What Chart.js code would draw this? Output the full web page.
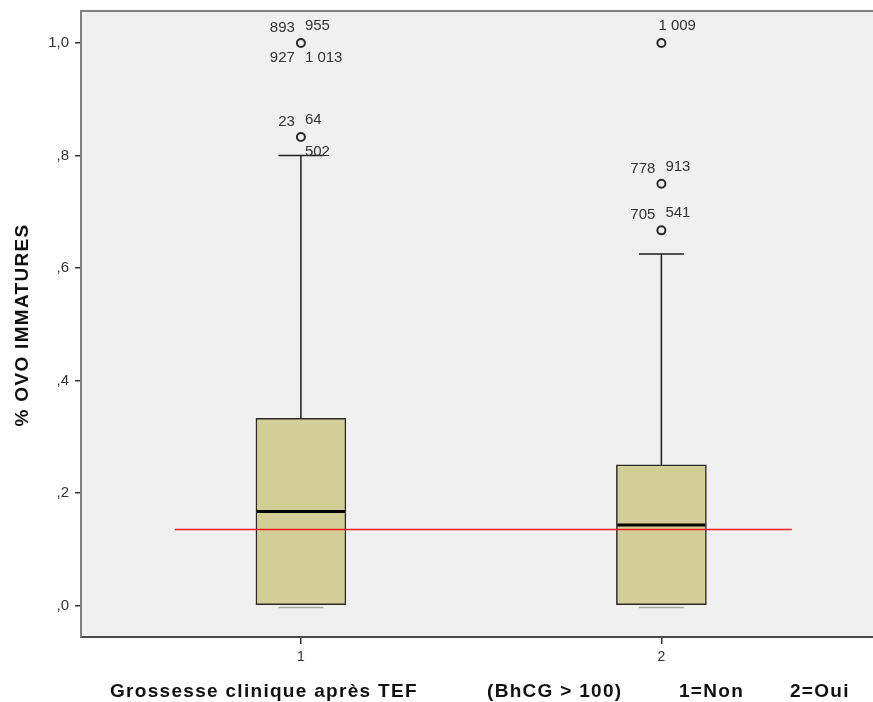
<!DOCTYPE html>
<html><head><meta charset="utf-8">
<script src="https://cdn.jsdelivr.net/npm/chart.js@4/dist/chart.umd.min.js"></script>
<style>html,body{margin:0;padding:0;background:#fff;} canvas{display:block;}</style>
</head><body>
<canvas id="c" width="873" height="702"></canvas>
<script>
// ---- data ----
const categories = [1, 2];
const categoryLabels = ['1', '2'];
const q1 = [0, 0];
const q3 = [0.333, 0.25];
const medians = [0.167, 0.143];
const whiskerLow = [0, 0];
const whiskerHigh = [0.8, 0.625];
const outlierCat = [1, 1, 2, 2, 2];
const outlierVal = [1.0, 0.833, 1.0, 0.75, 0.667];
const outlierLabels = [['893', '955', '927', '1 013'], ['23', '64', '502'], ['1 009'], ['778', '913'], ['705', '541']];
const outlierLabelPos = [['ul', 'ur', 'll', 'lr'], ['ul', 'ur', 'lr'], ['ur'], ['ul', 'ur'], ['ul', 'ur']];
const refLineValue = 0.135;
const refLineFrom = 0.65;
const refLineTo = 2.362;
const yTickValues = [0, 0.2, 0.4, 0.6, 0.8, 1.0];
const yTickLabels = [',0', ',2', ',4', ',6', ',8', '1,0'];
const yTitle = '% OVO IMMATURES';
const xTitleParts = ['Grossesse clinique après TEF', '(BhCG > 100)', '1=Non', '2=Oui'];

// ---- style / layout ----
const FONT = "'Liberation Sans', Arial, sans-serif";
const xTitleX = [110, 487, 679, 790];
const BOX_W = 90, CAP_HALF = 22.5;

const boxPlugin = {
  id: 'boxplot',
  beforeDraw(chart) {
    const a = chart.chartArea, ctx = chart.ctx;
    ctx.save();
    ctx.fillStyle = '#f0f0f0';
    ctx.fillRect(a.left, a.top, a.right - a.left, a.bottom - a.top);
    ctx.restore();
  },
  afterDatasetDraw(chart, args) {
    if (args.index !== 0) return;
    const xs = chart.scales.x, ys = chart.scales.y, ctx = chart.ctx;
    ctx.save();
    categories.forEach((c, i) => {
      const cx = xs.getPixelForValue(c);
      const yq3 = ys.getPixelForValue(q3[i]);
      const yq1 = ys.getPixelForValue(q1[i]);
      const yHi = ys.getPixelForValue(whiskerHigh[i]);
      const yLo = ys.getPixelForValue(whiskerLow[i]);
      const yMed = ys.getPixelForValue(medians[i]);
      ctx.strokeStyle = '#1e1e1e';
      ctx.lineWidth = 1.5;
      ctx.beginPath();
      ctx.moveTo(cx, yq3); ctx.lineTo(cx, yHi);
      ctx.moveTo(cx - CAP_HALF, yHi); ctx.lineTo(cx + CAP_HALF, yHi);
      ctx.moveTo(cx, yq1); ctx.lineTo(cx, yLo);
      ctx.stroke();
      ctx.strokeStyle = '#a8a8a8';
      ctx.beginPath();
      ctx.moveTo(cx - CAP_HALF, yLo + 2); ctx.lineTo(cx + CAP_HALF, yLo + 2);
      ctx.stroke();
      ctx.strokeStyle = '#000';
      ctx.lineWidth = 3;
      ctx.beginPath();
      ctx.moveTo(cx - BOX_W / 2 + 1, yMed); ctx.lineTo(cx + BOX_W / 2 - 1, yMed);
      ctx.stroke();
    });
    ctx.restore();
  },
  afterDraw(chart) {
    const xs = chart.scales.x, ys = chart.scales.y, ctx = chart.ctx, a = chart.chartArea;
    ctx.save();
    // top border
    ctx.strokeStyle = '#808080';
    ctx.lineWidth = 2;
    ctx.beginPath();
    ctx.moveTo(a.left - 1, a.top); ctx.lineTo(a.right, a.top);
    ctx.stroke();
    // outlier labels
    ctx.fillStyle = '#333';
    ctx.font = '15px ' + FONT;
    ctx.textBaseline = 'middle';
    outlierVal.forEach((v, i) => {
      const px = xs.getPixelForValue(outlierCat[i]);
      const py = ys.getPixelForValue(v);
      outlierLabels[i].forEach((t, j) => {
        const p = outlierLabelPos[i][j];
        let tx, ty;
        if (p === 'ul') { ctx.textAlign = 'right'; tx = px - 6; ty = py - 15; }
        else if (p === 'ur') { ctx.textAlign = 'left'; tx = px + (outlierLabels[i].length === 1 ? -3 : 4); ty = py - 17; }
        else if (p === 'll') { ctx.textAlign = 'right'; tx = px - 6; ty = py + 15; }
        else { ctx.textAlign = 'left'; tx = px + 4; ty = py + 15; }
        ctx.fillText(t, tx, ty);
      });
    });
    // axis titles
    ctx.fillStyle = '#111';
    ctx.font = 'bold 19px ' + FONT;
    ctx.letterSpacing = '1.3px';
    ctx.textAlign = 'left';
    ctx.textBaseline = 'middle';
    xTitleParts.forEach((t, i) => ctx.fillText(t, xTitleX[i], 692));
    ctx.translate(23, 325);
    ctx.rotate(-Math.PI / 2);
    ctx.textAlign = 'center';
    ctx.fillText(yTitle, 0, 0);
    ctx.restore();
  }
};

new Chart(document.getElementById('c'), {
  type: 'bar',
  data: {
    datasets: [
      {
        type: 'bar',
        data: categories.map((c, i) => ({ x: c, y: [q1[i], q3[i]] })),
        backgroundColor: '#d3ce97',
        borderColor: '#2a2a2a',
        borderWidth: 1.5,
        borderSkipped: false,
        barThickness: BOX_W,
        order: 3
      },
      {
        type: 'line',
        data: [{ x: refLineFrom, y: refLineValue }, { x: refLineTo, y: refLineValue }],
        borderColor: '#ee1c24',
        borderWidth: 1.6,
        pointRadius: 0,
        fill: false,
        order: 2
      },
      {
        type: 'scatter',
        data: outlierVal.map((v, i) => ({ x: outlierCat[i], y: v })),
        pointStyle: 'circle',
        pointRadius: 4,
        borderWidth: 2,
        borderColor: '#2a2a2a',
        backgroundColor: 'rgba(0,0,0,0)',
        order: 1
      }
    ]
  },
  options: {
    responsive: false,
    animation: false,
    events: [],
    layout: { autoPadding: false, padding: { top: 11, left: 0, right: 0, bottom: 0 } },
    plugins: { legend: { display: false }, tooltip: { enabled: false } },
    scales: {
      x: {
        type: 'linear',
        min: 0.39,
        max: 2.587,
        offset: false,
        afterFit(s) { s.height = 65; s.paddingLeft = 0; s.paddingRight = 0; },
        afterBuildTicks(s) { s.ticks = categories.map(v => ({ value: v })); },
        ticks: {
          callback: (v, i) => categoryLabels[i],
          font: { size: 14, family: FONT },
          color: '#333',
          padding: 5,
          maxRotation: 0
        },
        grid: { display: true, drawOnChartArea: false, drawTicks: true, tickLength: 7, color: '#333', lineWidth: 1.5, offset: false },
        border: { display: true, color: '#4a4a4a', width: 2 }
      },
      y: {
        type: 'linear',
        min: -0.056,
        max: 1.057,
        afterFit(s) { s.width = 81; s.paddingTop = 0; s.paddingBottom = 0; },
        afterBuildTicks(s) { s.ticks = yTickValues.map(v => ({ value: v })); },
        ticks: {
          callback: (v, i) => yTickLabels[i],
          font: { size: 15, family: FONT },
          color: '#333',
          padding: 6
        },
        grid: { display: true, drawOnChartArea: false, drawTicks: true, tickLength: 6, color: '#333', lineWidth: 1.5 },
        border: { display: true, color: '#808080', width: 2 }
      }
    }
  },
  plugins: [boxPlugin]
});
</script>
</body></html>
